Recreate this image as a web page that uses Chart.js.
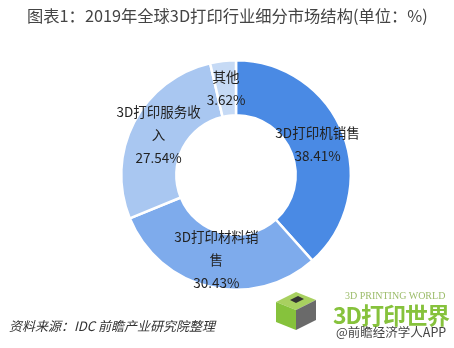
<!DOCTYPE html>
<html>
<head>
<meta charset="utf-8">
<script src="https://cdn.jsdelivr.net/npm/chart.js@4"></script>
<style>
  body { margin: 0; background: #fff; font-family: "Noto Sans CJK SC", sans-serif; }
  #wrap { position: relative; width: 454px; height: 348px; overflow: hidden; }
  #myChart { position: absolute; left: 0; top: 0; }
  .title { position: absolute; left: 27px; top: 3px; font-size: 16.3px; color: #444; white-space: nowrap; }
  .source { position: absolute; left: 9px; top: 316px; font-size: 13px; font-style: italic; color: #333; white-space: nowrap; }
  .logo-en { position: absolute; left: 345px; top: 290px; font-family: "Liberation Serif", serif; font-size: 10px; color: #9cbc6a; white-space: nowrap; }
  .logo-cn { position: absolute; left: 333px; top: 297px; font-size: 23px; font-weight: bold; color: #86c23c; white-space: nowrap; letter-spacing: -1px; }
  .app { position: absolute; left: 336px; top: 322px; font-size: 12.5px; color: #444; white-space: nowrap; }
  .cube { position: absolute; left: 270px; top: 288px; width: 52px; height: 42px; }
</style>
</head>
<body>
<div id="wrap">
  <canvas id="myChart" width="454" height="348"></canvas>
  <div class="title">图表1：2019年全球3D打印行业细分市场结构(单位：%)</div>
  <svg class="cube" viewBox="0 0 52 42">
    <polygon points="6,14 26,4 46,12 26,22" fill="#a8d060"/>
    <polygon points="6,14 26,22 26,42 6,34" fill="#86c23c"/>
    <polygon points="26,22 46,12 46,32 26,42" fill="#6a6a6a"/>
    <polygon points="20,12 28,8 34,11 26,15" fill="#333"/>
  </svg>
  <div class="logo-en">3D PRINTING WORLD</div>
  <div class="logo-cn">3D打印世界</div>
  <div class="app">@前瞻经济学人APP</div>
  <div class="source">资料来源：IDC 前瞻产业研究院整理</div>
</div>
<script>
// 数据
const categories = ["3D打印机销售", "3D打印材料销售", "3D打印服务收入", "其他"];
const shares = [38.41, 30.43, 27.54, 3.62];
// 标签换行（与原图一致）
const labelLines = [["3D打印机销售"], ["3D打印材料销", "售"], ["3D打印服务收", "入"], ["其他"]];
const sliceColors = ["#4a8ae4", "#7eabec", "#a9c7f1", "#c6daf5"];

// 在每个扇区中心写名称和百分比
const sliceLabels = {
  id: "sliceLabels",
  afterDatasetsDraw(chart) {
    const ctx = chart.ctx;
    const meta = chart.getDatasetMeta(0);
    ctx.save();
    ctx.font = '13.5px "Noto Sans CJK SC", sans-serif';
    ctx.fillStyle = "#222";
    ctx.textAlign = "center";
    ctx.textBaseline = "middle";
    meta.data.forEach((arc, i) => {
      const pos = arc.tooltipPosition();
      const lines = labelLines[i].concat([shares[i].toFixed(2) + "%"]);
      const lh = 23;
      const y0 = pos.y - ((lines.length - 1) * lh) / 2;
      lines.forEach((t, k) => {
        ctx.fillText(t, pos.x, y0 + k * lh);
      });
    });
    ctx.restore();
  },
};

var ctx = document.getElementById("myChart").getContext("2d");
var myChart = new Chart(ctx, {
  type: "doughnut",
  data: {
    labels: categories,
    datasets: [
      {
        data: shares,
        backgroundColor: sliceColors,
        borderColor: "#ffffff",
        borderWidth: 2.5,
      },
    ],
  },
  options: {
    responsive: false,
    animation: false,
    cutout: "52%",
    layout: {
      padding: { left: 120, right: 102, top: 59, bottom: 57 },
    },
    plugins: {
      legend: { display: false },
      tooltip: { enabled: false },
    },
  },
  plugins: [sliceLabels],
});
</script>
</body>
</html>
